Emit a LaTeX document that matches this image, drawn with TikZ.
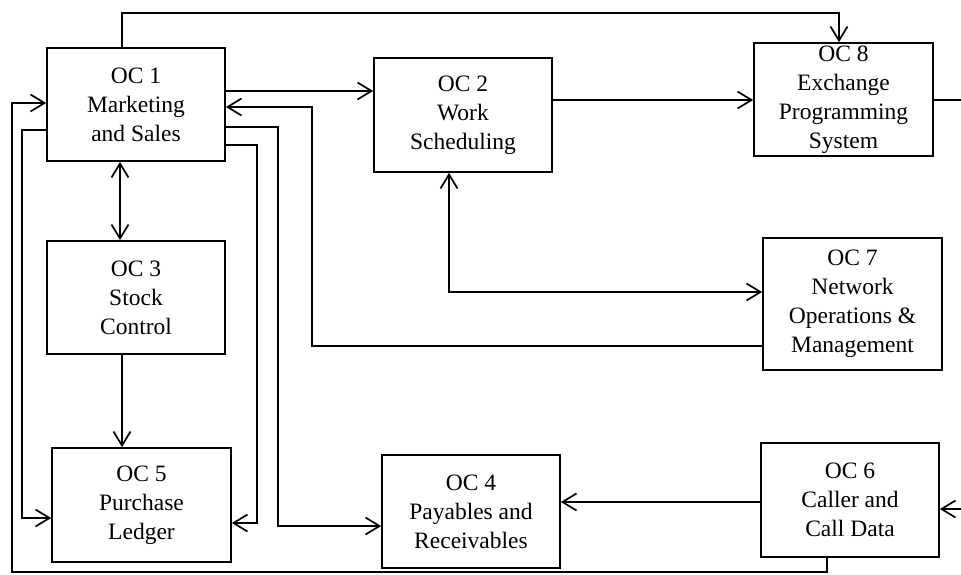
\documentclass[tikz,border=0pt]{standalone}
\usepackage{fontspec}
\setmainfont{Liberation Serif}
\usetikzlibrary{arrows.meta}
\tikzset{every path/.style={black,line width=1.7pt}, arr/.style={-{Straight Barb[length=14pt,width=17pt]}}, arr2/.style={{Straight Barb[length=14pt,width=17pt]}-{Straight Barb[length=14pt,width=17pt]}}}
\tikzset{box/.style={draw, rectangle, inner sep=0pt, align=center, font=\fontsize{23.5}{29}\selectfont}}

\begin{document}
\begin{tikzpicture}[x=1pt,y=-1pt]
  \useasboundingbox (0,0) rectangle (961,574);
   \node[box, minimum width=178, minimum height=113] (oc1) at (136.0,104.5) {OC 1\\Marketing\\and Sales};
   \node[box, minimum width=178, minimum height=114] (oc2) at (463.0,115.0) {OC 2\\Work\\Scheduling};
   \node[box, minimum width=179, minimum height=113] (oc8) at (843.5, 99.5) {OC 8\\Exchange\\Programming\\System};
   \node[box, minimum width=179, minimum height=132] (oc7) at (852.5,304.0) {OC 7\\Network\\Operations \&\\Management};
   \node[box, minimum width=178, minimum height=113] (oc3) at (136.0,297.5) {OC 3\\Stock\\Control};
   \node[box, minimum width=179, minimum height=114] (oc5) at (141.5,505.0) {OC 5\\Purchase\\Ledger};
   \node[box, minimum width=178, minimum height=113] (oc4) at (471.0,511.5) {OC 4\\Payables and\\Receivables};
   \node[box, minimum width=178, minimum height=114] (oc6) at (850.0,500.0) {OC 6\\Caller and\\Call Data};
   \coordinate (out8) at (961,100);
   \coordinate (in6) at (961,509);
   \draw[arr] (oc1.north -| 122,0) |- (839,13) -- (oc8.north -| 839,0);
   \draw[arr] (oc1.east |- 0,91) -- (oc2.west |- 0,91);
   \draw[arr] (oc7.west |- 0,346) -| (312,107) -- (oc1.east |- 0,107);
   \draw[arr] (oc1.east |- 0,127) -| (278,526) -- (oc4.west |- 0,526);
   \draw[arr] (oc1.east |- 0,145) -| (257,523) -- (oc5.east |- 0,523);
   \draw[arr2] (oc1.south -| 120,0) -- (oc3.north -| 120,0);
   \draw[arr] (oc3.south -| 122,0) -- (oc5.north -| 122,0);
   \draw[arr] (oc6.south -| 827,0) |- (12,572) |- (oc1.west |- 0,103);
   \draw[arr] (oc1.west |- 0,130) -| (22,518) -- (oc5.west |- 0,518);
   \draw[arr2] (oc2.south -| 449,0) |- (oc7.west |- 0,292);
   \draw[arr] (oc2.east |- 0,100) -- (oc8.west |- 0,100);
   \draw (oc8.east |- out8) -- (out8);
   \draw[arr] (in6) -- (oc6.east |- in6);
   \draw[arr] (oc6.west |- 0,502) -- (oc4.east |- 0,502);
 \end{tikzpicture}
\end{document}
